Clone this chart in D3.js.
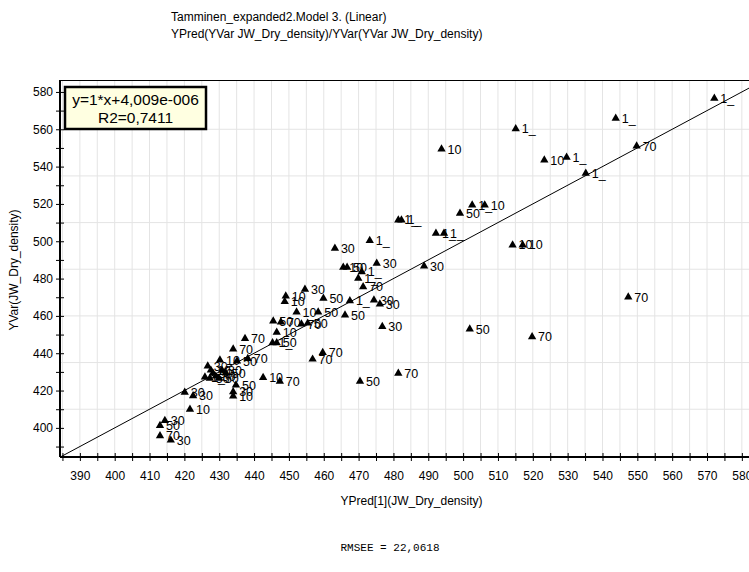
<!DOCTYPE html>
<html>
<head>
<meta charset="utf-8">
<script src="https://cdn.jsdelivr.net/npm/d3@7"></script>
<style>
  html, body { margin: 0; padding: 0; background: #fff; }
  svg { display: block; font-family: "Liberation Sans", Arial, sans-serif; }
</style>
</head>
<body>
<svg id="chart" width="749" height="572"></svg>
<script>
// Predicted vs. observed dry density, one entry per observation
const predicted = [
  572.1, 543.8, 549.8, 529.7, 535.2, 523.3, 515.1, 493.8, 499.1, 502.6,
  506.2, 481.4, 482.3, 492.2, 494.5, 473.2, 514.2, 517.1, 463.2, 475.2,
  488.8, 465.6, 466.7, 470.9, 469.9, 471.3, 467.5, 474.4, 476.1, 466.1,
  476.8, 459.9, 454.6, 449.1, 448.8, 452.2, 458.4, 445.5, 447.7, 453.6,
  455.4, 446.5, 445.3, 446.5, 437.4, 434.0, 459.7, 456.8, 470.4, 481.4,
  501.9, 519.8, 547.4, 430.2, 435.1, 438.2, 442.6, 447.4, 434.8, 434.0,
  434.0, 420.1, 422.5, 421.6, 414.4, 413.0, 413.0, 416.1, 426.7, 427.6,
  428.2, 425.9, 427.3, 429.0, 430.8, 431.9, 429.9
];
const observed = [
  576.6, 565.9, 551.0, 545.0, 536.4, 543.5, 560.2, 549.4, 515.0, 519.4,
  519.4, 511.4, 511.4, 504.2, 504.2, 500.4, 498.0, 498.0, 496.2, 488.2,
  486.7, 486.0, 486.0, 483.6, 480.1, 475.6, 468.1, 468.5, 466.3, 460.4,
  454.3, 469.4, 474.2, 470.6, 467.7, 462.0, 462.0, 457.2, 456.7, 455.6,
  456.1, 451.2, 445.6, 445.6, 447.9, 442.2, 440.4, 436.8, 425.0, 429.2,
  452.9, 448.8, 470.1, 436.3, 435.8, 437.1, 427.0, 425.0, 422.9, 419.3,
  417.0, 419.1, 417.2, 409.9, 403.9, 401.2, 395.7, 393.4, 433.1, 430.9,
  429.3, 427.2, 426.6, 427.7, 430.9, 429.3, 426.6
];
const obsLabels = [
  "1_", "1_", "70", "1_", "1_", "10", "1_", "10", "50", "1_",
  "10", "1_", "1_", "1_", "1_", "1_", "10", "10", "30", "30",
  "30", "10", "50", "1_", "1_", "70", "1_", "30", "30", "50",
  "30", "50", "30", "10", "10", "10", "50", "50", "70", "70",
  "50", "10", "1_", "50", "70", "70", "70", "70", "50", "70",
  "50", "70", "70", "10", "50", "70", "10", "70", "50", "30",
  "10", "30", "30", "10", "30", "50", "70", "30", "30", "10",
  "50", "1_", "50", "30", "30", "50", "50"
];

// Regression line y = slope*x + intercept
const slope = 1;
const intercept = 4.009e-6;
const fitText = ["y=1*x+4,009e-006", "R2=0,7411"];

// Axis ticks
const xTickLabels = d3.range(390, 581, 10);
const xTickMarks = d3.range(385, 591, 5);
const yTickLabels = d3.range(400, 581, 20);
const yTickMarks = d3.range(390, 586, 10);
const xGrid = d3.range(385, 591, 5);
const yGrid = d3.range(410, 561, 25);

const titleLines = [
  "Tamminen_expanded2.Model 3. (Linear)",
  "YPred(YVar JW_Dry_density)/YVar(YVar JW_Dry_density)"
];
const xTitle = "YPred[1](JW_Dry_density)";
const yTitle = "YVar(JW_Dry_density)";
const footer = "RMSEE = 22,0618";

const svg = d3.select("#chart");
const plot = { left: 60, top: 80, bottom: 457, right: 776.7 };

const x = d3.scaleLinear().domain([384.3, 590]).range([plot.left, plot.right]);
const y = d3.scaleLinear().domain([384.4, 586.4]).range([plot.bottom, plot.top]);

svg.append("defs").append("clipPath").attr("id", "plotClip")
  .append("rect")
  .attr("x", plot.left).attr("y", plot.top)
  .attr("width", plot.right - plot.left).attr("height", plot.bottom - plot.top);

// Grid
const grid = svg.append("g").attr("clip-path", "url(#plotClip)");
grid.selectAll("line.vg").data(xGrid).join("line")
  .attr("class", "vg")
  .attr("x1", d => x(d)).attr("x2", d => x(d))
  .attr("y1", plot.top).attr("y2", plot.bottom)
  .attr("stroke", "#e4e4e4").attr("stroke-width", 1);
grid.selectAll("line.hg").data(yGrid).join("line")
  .attr("class", "hg")
  .attr("x1", plot.left).attr("x2", plot.right)
  .attr("y1", d => y(d)).attr("y2", d => y(d))
  .attr("stroke", "#e4e4e4").attr("stroke-width", 1);

// Top border
svg.append("line")
  .attr("x1", plot.left).attr("x2", plot.right)
  .attr("y1", plot.top + 0.5).attr("y2", plot.top + 0.5)
  .attr("stroke", "#000").attr("stroke-width", 1);

// Regression line
const [x0, x1] = x.domain();
svg.append("g").attr("clip-path", "url(#plotClip)")
  .append("line")
  .attr("x1", x(x0)).attr("y1", y(slope * x0 + intercept))
  .attr("x2", x(x1)).attr("y2", y(slope * x1 + intercept))
  .attr("stroke", "#000").attr("stroke-width", 1);

// X axis
const xAxis = d3.axisBottom(x)
  .tickValues(xTickMarks)
  .tickSize(4)
  .tickPadding(10)
  .tickFormat(d => xTickLabels.includes(d) ? String(d) : "");
const gx = svg.append("g")
  .attr("transform", `translate(0,${plot.bottom})`)
  .call(xAxis);
gx.select(".domain").attr("stroke", "#000").attr("stroke-width", 2)
  .attr("d", `M${plot.left},0H${plot.right}`);
gx.selectAll(".tick line").attr("y1", -4).attr("y2", 4).attr("stroke-width", 1);
gx.selectAll(".tick text").attr("font-size", 12).attr("fill", "#000")
  .attr("font-family", "Liberation Sans, Arial, sans-serif");

// Y axis
const yAxis = d3.axisLeft(y)
  .tickValues(yTickMarks)
  .tickSize(4)
  .tickPadding(3)
  .tickFormat(d => yTickLabels.includes(d) ? String(d) : "");
const gy = svg.append("g")
  .attr("transform", `translate(${plot.left},0)`)
  .call(yAxis);
gy.select(".domain").attr("stroke", "#000").attr("stroke-width", 2)
  .attr("d", `M0,${plot.top}V${plot.bottom}`);
gy.selectAll(".tick line").attr("x1", -4).attr("x2", 4).attr("stroke-width", 1);
gy.selectAll(".tick text").attr("font-size", 12).attr("fill", "#000")
  .attr("font-family", "Liberation Sans, Arial, sans-serif");

// Observations
const pts = d3.range(predicted.length).map(i => ({
  px: predicted[i], py: observed[i], label: obsLabels[i]
}));
const tri = d3.symbol().type(d3.symbolTriangle).size(30);
const marks = svg.append("g").attr("clip-path", "url(#plotClip)");
const pg = marks.selectAll("g.pt").data(pts).join("g")
  .attr("class", "pt")
  .attr("transform", d => `translate(${x(d.px)},${y(d.py)})`);
pg.append("path").attr("d", tri).attr("fill", "#000");
pg.append("text")
  .attr("x", 6).attr("y", 4.5)
  .attr("font-size", 12.5)
  .attr("fill", "#000")
  .text(d => d.label);

// Fit box
const box = svg.append("g");
box.append("rect")
  .attr("x", 65).attr("y", 87).attr("width", 141).attr("height", 42)
  .attr("fill", "#ffffe1").attr("stroke", "#000").attr("stroke-width", 2.5);
box.selectAll("text").data(fitText).join("text")
  .attr("x", 135.5).attr("y", (d, i) => 105 + i * 17.5)
  .attr("text-anchor", "middle")
  .attr("font-size", 15.5)
  .attr("fill", "#000")
  .text(d => d);

// Titles
svg.selectAll("text.title").data(titleLines).join("text")
  .attr("class", "title")
  .attr("x", 171).attr("y", (d, i) => 21 + i * 17)
  .attr("font-size", 12)
  .attr("fill", "#000")
  .text(d => d);

svg.append("text")
  .attr("x", 411.5).attr("y", 505)
  .attr("text-anchor", "middle")
  .attr("font-size", 12)
  .text(xTitle);

svg.append("text")
  .attr("transform", "translate(18,270) rotate(-90)")
  .attr("text-anchor", "middle")
  .attr("font-size", 12)
  .text(yTitle);

svg.append("text")
  .attr("x", 390).attr("y", 551)
  .attr("text-anchor", "middle")
  .attr("font-family", "Liberation Mono, DejaVu Sans Mono, monospace")
  .attr("font-size", 11)
  .text(footer);
</script>
</body>
</html>
